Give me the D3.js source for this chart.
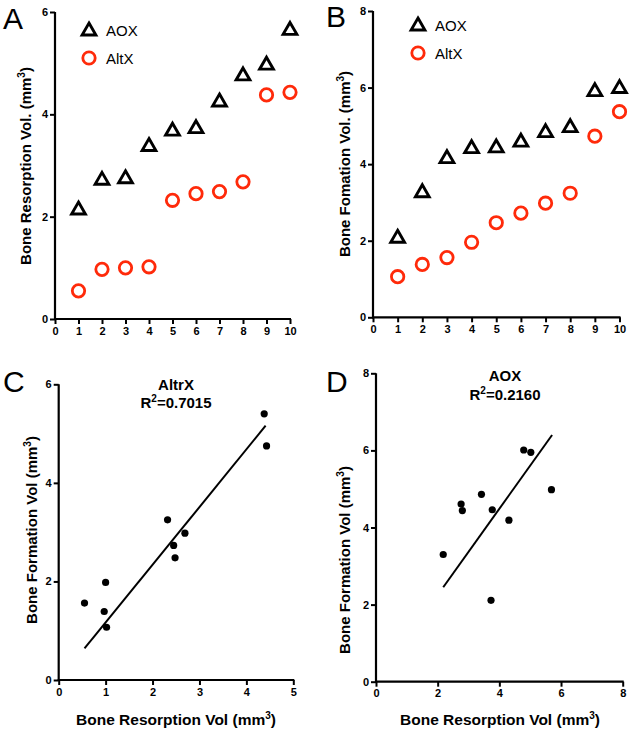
<!DOCTYPE html>
<html><head><meta charset="utf-8">
<script src="https://cdn.jsdelivr.net/npm/d3@7"></script>
<style>body{margin:0;background:#fff}svg{display:block;font-family:"Liberation Sans",Arial,Helvetica,sans-serif}</style>
</head><body>
<script>
// ---- data ----
const subjects = [1,2,3,4,5,6,7,8,9,10];
const resorptionAOX  = [2.15,2.73,2.76,3.39,3.69,3.74,4.26,4.77,4.98,5.66];
const resorptionAltX = [0.55,0.97,1.00,1.02,2.32,2.45,2.49,2.68,4.38,4.43];
const formationAOX   = [2.09,3.28,4.17,4.43,4.45,4.60,4.85,4.98,5.92,6.00];
const formationAltX  = [1.06,1.38,1.56,1.96,2.47,2.72,2.98,3.24,4.73,5.37];
const altxScatterX = [0.55,0.97,1.00,1.02,2.32,2.45,2.48,2.69,4.38,4.43];
const altxScatterY = [1.56,1.39,1.98,1.07,3.25,2.73,2.48,2.98,5.40,4.75];
const aoxScatterX  = [2.18,2.76,2.80,3.42,3.77,3.73,4.31,4.79,5.02,5.69];
const aoxScatterY  = [3.30,4.61,4.44,4.86,4.46,2.11,4.19,6.01,5.95,4.98];
const altxFitX = [0.55,4.41], altxFitY = [0.64,5.16];
const aoxFitX  = [2.18,5.71], aoxFitY  = [2.45,6.40];
const ticksA_y = [0,2,4,6], ticksB_y = [0,2,4,6,8], ticksAB_x = [0,1,2,3,4,5,6,7,8,9,10];
const ticksC_x = [0,1,2,3,4,5], ticksC_y = [0,2,4,6];
const ticksD_x = [0,2,4,6,8], ticksD_y = [0,2,4,6,8];
const legendLabels = ["AOX","AltX"];

const RED = "#ff2a0a";
const svg = d3.select("body").append("svg").attr("width",632).attr("height",735);

function axes(x, y, xt, yt){
  const gx = svg.append("g").attr("transform",`translate(0,${y.range()[0]})`)
    .call(d3.axisBottom(x).tickValues(xt).tickSize(5).tickPadding(3).tickFormat(d3.format("d")));
  const gy = svg.append("g").attr("transform",`translate(${x.range()[0]},0)`)
    .call(d3.axisLeft(y).tickValues(yt).tickSize(5).tickPadding(2).tickFormat(d3.format("d")));
  [gx,gy].forEach(g=>{
    g.select(".domain").attr("stroke","#000").attr("stroke-width",2.2);
    g.selectAll(".tick line").attr("stroke","#000").attr("stroke-width",2);
    g.selectAll(".tick text").attr("font-size",11).attr("font-weight","bold").attr("fill","#000")
      .attr("font-family","'Liberation Sans',Arial,sans-serif");
  });
  gx.select(".domain").attr("d",`M${x.range()[0]-1},0H${x.range()[1]+1}`);
  gy.select(".domain").attr("d",`M0,${y.range()[0]+1}V${y.range()[1]}`);
}
function ytitle(cx, cy, text){
  const t = svg.append("text").attr("transform",`translate(${cx},${cy}) rotate(-90)`)
    .attr("text-anchor","middle").attr("font-size",15).attr("font-weight","bold");
  t.append("tspan").text(text);
  t.append("tspan").text("3").attr("font-size",10).attr("dy",-6);
  t.append("tspan").text(")").attr("dy",6);
}
function xtitle(cx, cy, text){
  const t = svg.append("text").attr("x",cx).attr("y",cy).attr("text-anchor","middle")
    .attr("font-size",15.5).attr("font-weight","bold");
  t.append("tspan").text(text);
  t.append("tspan").text("3").attr("font-size",10).attr("dy",-6);
  t.append("tspan").text(")").attr("dy",6);
}
const tri = d3.symbol().type(d3.symbolTriangle).size(82);
function triangles(x,y,xs,ys){
  svg.append("g").selectAll("path").data(xs).join("path")
    .attr("d",tri).attr("transform",(d,i)=>`translate(${x(d)},${y(ys[i])+1})`)
    .attr("fill","none").attr("stroke","#000").attr("stroke-width",2.9).attr("stroke-linejoin","miter");
}
function rings(x,y,xs,ys){
  svg.append("g").selectAll("circle").data(xs).join("circle")
    .attr("cx",d=>x(d)).attr("cy",(d,i)=>y(ys[i])).attr("r",6.2)
    .attr("fill","none").attr("stroke",RED).attr("stroke-width",2.8);
}
function legend(lx, ly1, ly2){
  svg.append("path").attr("d",tri).attr("transform",`translate(${lx},${ly1+1})`)
    .attr("fill","none").attr("stroke","#000").attr("stroke-width",2.9);
  svg.append("circle").attr("cx",lx).attr("cy",ly2).attr("r",6.2).attr("fill","none").attr("stroke",RED).attr("stroke-width",2.8);
  [ly1,ly2].forEach((ly,i)=>svg.append("text").attr("x",lx+17).attr("y",ly+5.5).attr("font-size",15).text(legendLabels[i]));
}
function letter(x,y,t){ svg.append("text").attr("x",x).attr("y",y).attr("font-size",30).text(t); }

// Panel A
const xA = d3.scaleLinear().domain([0,10]).range([55,290]);
const yA = d3.scaleLinear().domain([0,6]).range([319,12]);
axes(xA,yA,ticksAB_x,ticksA_y);
triangles(xA,yA,subjects,resorptionAOX);
rings(xA,yA,subjects,resorptionAltX);
legend(89,30,58);
ytitle(31,166,"Bone Resorption Vol. (mm");
letter(3,29,"A");

// Panel B
const xB = d3.scaleLinear().domain([0,10]).range([373,619.5]);
const yB = d3.scaleLinear().domain([0,8]).range([317.3,11]);
axes(xB,yB,ticksAB_x,ticksB_y);
triangles(xB,yB,subjects,formationAOX);
rings(xB,yB,subjects,formationAltX);
legend(418,25,53);
ytitle(350,164,"Bone Fomation Vol. (mm");
letter(326,27,"B");

// Panel C
const xC = d3.scaleLinear().domain([0,5]).range([58.7,293.3]);
const yC = d3.scaleLinear().domain([0,6]).range([680,384.3]);
axes(xC,yC,ticksC_x,ticksC_y);
svg.append("line").attr("x1",xC(altxFitX[0])).attr("y1",yC(altxFitY[0])).attr("x2",xC(altxFitX[1])).attr("y2",yC(altxFitY[1]))
  .attr("stroke","#000").attr("stroke-width",2);
svg.append("g").selectAll("circle").data(altxScatterX).join("circle")
  .attr("cx",d=>xC(d)).attr("cy",(d,i)=>yC(altxScatterY[i])).attr("r",3.6).attr("fill","#000");
svg.append("text").attr("x",176).attr("y",390).attr("text-anchor","middle").attr("font-size",15).attr("font-weight","bold").text("AltrX");
{const t=svg.append("text").attr("x",176).attr("y",408).attr("text-anchor","middle").attr("font-size",15).attr("font-weight","bold");
 t.append("tspan").text("R");t.append("tspan").text("2").attr("font-size",10).attr("dy",-6);t.append("tspan").text("=0.7015").attr("dy",6);}
ytitle(37,530,"Bone Formation Vol (mm");
xtitle(176,725,"Bone Resorption Vol (mm");
letter(3,392,"C");

// Panel D
const xD = d3.scaleLinear().domain([0,8]).range([376,622.7]);
const yD = d3.scaleLinear().domain([0,8]).range([681.7,373.3]);
axes(xD,yD,ticksD_x,ticksD_y);
svg.append("line").attr("x1",xD(aoxFitX[0])).attr("y1",yD(aoxFitY[0])).attr("x2",xD(aoxFitX[1])).attr("y2",yD(aoxFitY[1]))
  .attr("stroke","#000").attr("stroke-width",2);
svg.append("g").selectAll("circle").data(aoxScatterX).join("circle")
  .attr("cx",d=>xD(d)).attr("cy",(d,i)=>yD(aoxScatterY[i])).attr("r",3.6).attr("fill","#000");
svg.append("text").attr("x",505).attr("y",381).attr("text-anchor","middle").attr("font-size",15).attr("font-weight","bold").text("AOX");
{const t=svg.append("text").attr("x",505).attr("y",400).attr("text-anchor","middle").attr("font-size",15).attr("font-weight","bold");
 t.append("tspan").text("R");t.append("tspan").text("2").attr("font-size",10).attr("dy",-6);t.append("tspan").text("=0.2160").attr("dy",6);}
ytitle(350,560,"Bone Formation Vol (mm");
xtitle(500,725,"Bone Resorption Vol (mm");
letter(326,392,"D");
</script>
</body></html>
